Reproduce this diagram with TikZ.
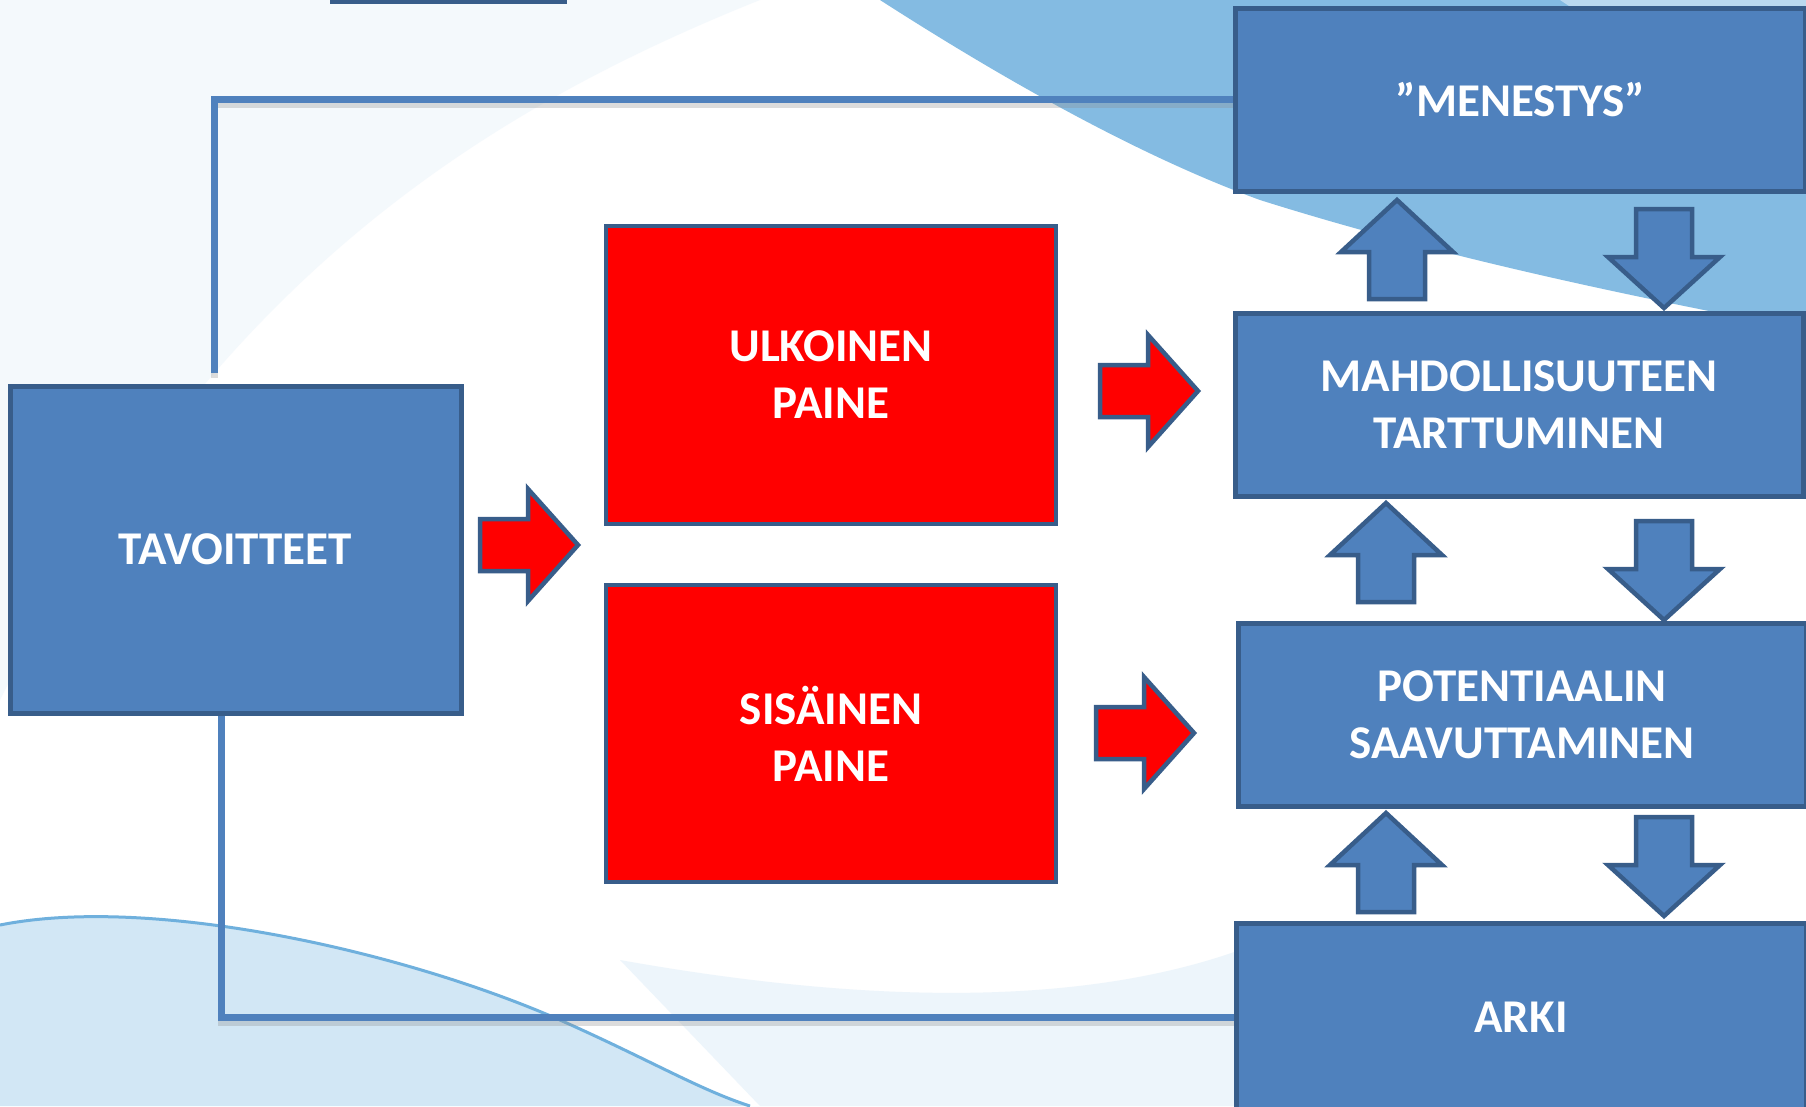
\documentclass[tikz,border=0pt]{standalone}
\usepackage{fontspec}
\setmainfont{Carlito}
\usetikzlibrary{positioning}

\definecolor{laatikkosin}{HTML}{4F81BD}
\definecolor{reuna}{HTML}{385D8A}
\definecolor{puna}{HTML}{FF0000}
\definecolor{aalto}{HTML}{6FB0DD}
\definecolor{vaalea}{HTML}{C4DFF2}

\tikzset{
  laatikko/.style={rectangle, draw=reuna, line width=5pt, fill=laatikkosin, text=white,
    font=\fontsize{47}{57}\selectfont\bfseries, align=center},
  punalaatikko/.style={laatikko, fill=puna, line width=4pt},
  yhteys/.style={draw=laatikkosin, line width=7pt},
  varjo/.style={draw=black!45, line width=7pt, opacity=.3},
  oikealle/.pic={\filldraw[fill=puna, draw=reuna, line width=4.5pt] (0,-26) -- (48,-26) -- (48,-56) -- (98,0) -- (48,56) -- (48,26) -- (0,26) -- cycle;},
  ylos/.pic={\filldraw[fill=laatikkosin, draw=reuna, line width=4.5pt] (-28,0) -- (-28,-47) -- (-56,-47) -- (0,-99) -- (56,-47) -- (28,-47) -- (28,0) -- cycle;},
  alas/.pic={\filldraw[fill=laatikkosin, draw=reuna, line width=4.5pt] (-28,0) -- (-28,48) -- (-56,48) -- (0,99) -- (56,48) -- (28,48) -- (28,0) -- cycle;}
}

\begin{document}
\begin{tikzpicture}[x=1pt, y=-1pt]
\useasboundingbox (0,0) rectangle (1806,1106);
\clip (0,0) rectangle (1806,1106);

% tausta
\fill[white] (0,0) rectangle (1806,1106);
\fill[vaalea, opacity=.18] (0,0) -- (760,0) .. controls (460,120) and (200,300) .. (0,700) -- cycle;
\fill[aalto, opacity=.85] (880,0) .. controls (1020,90) and (1150,160) .. (1260,200) .. controls (1450,260) and (1650,300) .. (1806,330) -- (1806,0) -- cycle;
\fill[white, opacity=.45] (1560,0) .. controls (1650,60) and (1740,110) .. (1806,140) -- (1806,0) -- cycle;
\fill[vaalea, opacity=.75] (0,925) .. controls (150,895) and (400,950) .. (560,1020) .. controls (650,1060) and (700,1090) .. (750,1106) -- (0,1106) -- cycle;
\fill[vaalea, opacity=.3] (620,960) .. controls (900,1010) and (1100,1000) .. (1240,950) -- (1240,1106) -- (760,1106) -- cycle;
\draw[aalto, line width=3pt] (0,925) .. controls (150,895) and (400,950) .. (560,1020) .. controls (650,1060) and (700,1090) .. (750,1106);
\fill[reuna] (330,0) rectangle (567,4);

% laatikot
\node[laatikko, minimum width=451pt, minimum height=327pt] (tavoitteet) at (235.5,549.5) {TAVOITTEET};
\node[punalaatikko, minimum width=450pt, minimum height=298pt] (ulkoinen) at (831,375) {ULKOINEN\\PAINE};
\node[punalaatikko, minimum width=450pt, minimum height=297pt] (sisainen) at (831,733.5) {SISÄINEN\\PAINE};
\node[laatikko, minimum width=570pt, minimum height=183pt] (menestys) at (1520,99.5) {”MENESTYS”};
\node[laatikko, minimum width=568pt, minimum height=183pt] (mahdollisuus) at (1519,404.5) {MAHDOLLISUUTEEN\\TARTTUMINEN};
\node[laatikko, minimum width=568pt, minimum height=183pt] (potentiaali) at (1522,714.5) {POTENTIAALIN\\SAAVUTTAMINEN};
\node[laatikko, minimum width=570pt, minimum height=188pt] (arki) at (1521,1017) {ARKI};

% yhteydet
\draw[varjo, transform canvas={yshift=-5pt}] ([xshift=-21pt,yshift=11pt]tavoitteet.north) |- (menestys.west);
\draw[varjo, transform canvas={yshift=-5pt}] ([xshift=-14pt]tavoitteet.south) |- (arki.west);
\draw[yhteys] ([xshift=-21pt,yshift=11pt]tavoitteet.north) |- (menestys.west);
\draw[yhteys] ([xshift=-14pt]tavoitteet.south) |- (arki.west);

% nuolet
\pic at (480,545) {oikealle};
\pic at (1100,391) {oikealle};
\pic at (1096,733) {oikealle};

\pic at (1397,299) {ylos};
\pic at (1386,602) {ylos};
\pic at (1386,912) {ylos};
\pic at (1664,209) {alas};
\pic at (1664,521) {alas};
\pic at (1664,817) {alas};
\end{tikzpicture}
\end{document}
